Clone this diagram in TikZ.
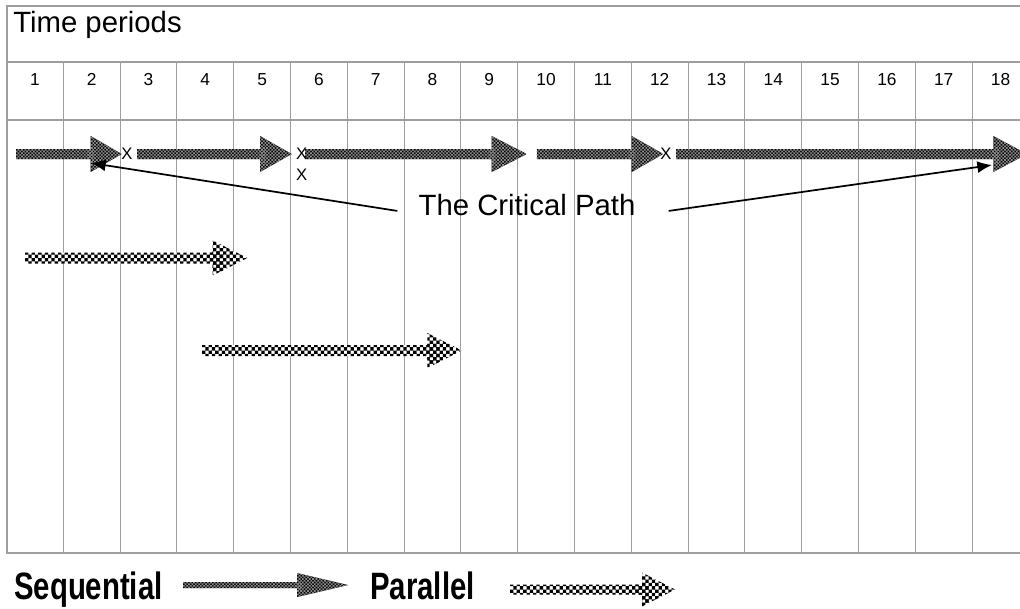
\documentclass[tikz,border=0pt]{standalone}
\usepackage{fontspec}
\setmainfont{Liberation Sans}
\usetikzlibrary{arrows.meta}

\definecolor{grade}{gray}{0.62}
\tikzset{
  numero/.style={font=\fontsize{13pt}{15pt}\selectfont, anchor=base},
  marca/.style={font=\fontsize{12.5pt}{14pt}\selectfont, inner sep=0pt},
  grande/.style={font=\fontsize{22pt}{24pt}\selectfont},
  legenda/.style={font=\fontsize{22pt}{24pt}\selectfont\bfseries, anchor=base west, inner sep=0pt},
  ligacao/.style={->, line width=1.3pt},
}
% seta larga xadrez: fundo, cor das casas, passo, x inicio, x base da ponta, x ponta, y, meia haste, meia ponta
\newcommand{\barra}[9]{%
  \begin{scope}
    \clip (#4,#7-#8) -- (#5,#7-#8) -- (#5,#7-#9) -- (#6,#7) -- (#5,#7+#9) -- (#5,#7+#8) -- (#4,#7+#8) -- cycle;
    \fill[#1] (#4,#7-#9) rectangle (#6,#7+#9);
    \pgfmathtruncatemacro{\na}{(#5-#4)/(2*#3)}
    \pgfmathtruncatemacro{\nb}{(#6-#4)/(2*#3)+1}
    \pgfmathtruncatemacro{\nc}{\na+1}
    \pgfmathtruncatemacro{\mh}{#8/(2*#3)+1}
    \pgfmathtruncatemacro{\mp}{#9/(2*#3)+1}
    \fill[#2] \foreach \i in {0,...,\nc} { \foreach \j in {-\mh,...,\mh} {
        (#4+2*#3*\i,#7+2*#3*\j) rectangle ++(#3,#3)
        (#4+2*#3*\i+#3,#7+2*#3*\j+#3) rectangle ++(#3,#3) } };
    \fill[#2] \foreach \i in {\na,...,\nb} { \foreach \j in {-\mp,...,\mp} {
        (#4+2*#3*\i,#7+2*#3*\j) rectangle ++(#3,#3)
        (#4+2*#3*\i+#3,#7+2*#3*\j+#3) rectangle ++(#3,#3) } };
  \end{scope}}
\newcommand{\critica}[6]{\barra{black}{black!45}{1.7}{#1}{#2}{#3}{#4}{#5}{#6}}
\newcommand{\paralela}[6]{\barra{white}{black}{3.3}{#1}{#2}{#3}{#4}{#5}{#6}}

\begin{document}
\begin{tikzpicture}[x=0.75pt, y=-0.75pt, >={Latex[length=11pt,width=9pt]}]
\useasboundingbox (0,0) rectangle (1020,608);
\clip (0,0) rectangle (1020,608);

% Tabela
\draw[grade, line width=1.5pt] (6.5,6) rectangle (1030,553);
\draw[grade, line width=0.9pt] (6.5,62) -- (1030,62);
\draw[grade, line width=0.9pt] (6.5,120) -- (1030,120);
\foreach \i in {1,...,17}
  \draw[grade, line width=0.8pt] (6.5+56.8*\i,62) -- (6.5+56.8*\i,553);
\node[grande, anchor=base west, inner sep=0pt] (titulo) at (13,32) {Time periods};
\foreach \i in {1,...,18}
  \node[numero] (p\i) at (6.5+56.8*\i-28.4,85) {\i};

% Caminho critico
\critica{16}{90.7}{121.7}{154}{5}{18}
\critica{137}{260}{291.7}{154}{5}{18}
\critica{305}{491.7}{526.7}{154}{5}{18}
\critica{536.7}{631.7}{663.3}{154}{5}{18}
\critica{676}{993.3}{1027}{154}{5}{18}
\node[marca] (x1) at (127,154) {X};
\node[marca] (x2) at (301.7,154) {X};
\node[marca] (x3) at (301.7,175) {X};
\node[marca] (x4) at (666,154) {X};

% Tarefas paralelas
\paralela{25}{212.7}{247.3}{258}{5.5}{17.5}
\paralela{202}{427.3}{461.7}{350.5}{5.5}{17.5}

% Rotulo
\node[grande, anchor=base, inner xsep=15.75pt] (cp) at (527,215) {The Critical Path};
\coordinate (tipL) at (91,163);
\coordinate (tipR) at (992,165);
\draw[ligacao] ([yshift=-4.8pt]cp.west) -- (tipL);
\draw[ligacao] ([xshift=9pt,yshift=-4.8pt]cp.east) -- (tipR);

% Legenda
\node[legenda] (seq) at (14,599) {\scalebox{1}[1.3]{Sequential}};
\critica{183}{297}{348}{585}{3}{12}
\node[legenda] (par) at (370,599) {\scalebox{1}[1.3]{Parallel}};
\paralela{510}{642}{675}{589.5}{5}{17}
\end{tikzpicture}
\end{document}
